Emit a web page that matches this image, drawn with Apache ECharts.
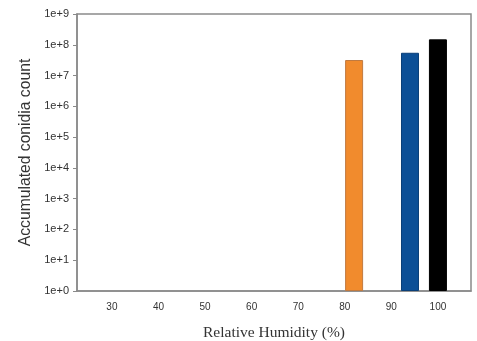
<!DOCTYPE html>
<html>
<head>
<meta charset="utf-8">
<script src="https://cdn.jsdelivr.net/npm/echarts@6/dist/echarts.min.js"></script>
<style>
  html, body { margin: 0; padding: 0; background: #fff; }
  #chart { width: 477px; height: 341px; }
</style>
</head>
<body>
<div id="chart"></div>
<script>
// relative humidity (%) of each bar and accumulated conidia count
var humidity = [82, 94, 100];
var conidia = [3.2e7, 5.5e7, 1.5e8];
var barColors = ['#f18b2d', '#0c4f96', '#000000'];
var barEdges = ['#c07a40', '#0a3f78', '#000000'];

// tick labels
var xTicks = [30, 40, 50, 60, 70, 80, 90, 100];
var yTicks = [1, 10, 100, 1e3, 1e4, 1e5, 1e6, 1e7, 1e8, 1e9];
var yTickLabels = ['1e+0', '1e+1', '1e+2', '1e+3', '1e+4', '1e+5', '1e+6', '1e+7', '1e+8', '1e+9'];

var myChart = echarts.init(document.getElementById('chart'));
var axisGray = '#8a8a8a';

var option = {
    animation: false,
    grid: {
        left: 77, right: 6, top: 14, bottom: 50,
        outerBoundsMode: 'none',
        show: true, borderColor: axisGray, borderWidth: 1.5
    },
    xAxis: {
        type: 'value',
        min: 22.5,
        max: 107.1,
        name: 'Relative Humidity (%)',
        nameLocation: 'middle',
        nameGap: 34,
        nameTextStyle: { fontFamily: 'Liberation Serif', fontSize: 15.5, color: '#333' },
        axisLine: { lineStyle: { color: axisGray, width: 1.5 } },
        axisTick: { show: false },
        splitLine: { show: false },
        axisLabel: {
            customValues: xTicks,
            margin: 11,
            fontFamily: 'Liberation Sans',
            fontSize: 10,
            color: '#333'
        }
    },
    yAxis: {
        type: 'log',
        logBase: 10,
        min: 1,
        max: 1e9,
        name: 'Accumulated conidia count',
        nameLocation: 'middle',
        nameGap: 42,
        nameTextStyle: { fontFamily: 'Liberation Sans', fontSize: 15.7, color: '#333' },
        axisLine: { show: true, lineStyle: { color: axisGray, width: 1.5 } },
        axisTick: { show: true, customValues: yTicks, length: 4, lineStyle: { color: axisGray } },
        splitLine: { show: false },
        axisLabel: {
            customValues: yTicks,
            margin: 8,
            fontFamily: 'Liberation Sans',
            fontSize: 11,
            color: '#333',
            formatter: function (v) {
                return yTickLabels[Math.round(Math.log10(v))];
            }
        }
    },
    series: [{
        type: 'bar',
        barWidth: 18,
        data: humidity.map(function (h, i) {
            return {
                value: [h, conidia[i]],
                itemStyle: { color: barColors[i], borderColor: barEdges[i], borderWidth: 1 }
            };
        })
    }]
};
myChart.setOption(option);
</script>
</body>
</html>
